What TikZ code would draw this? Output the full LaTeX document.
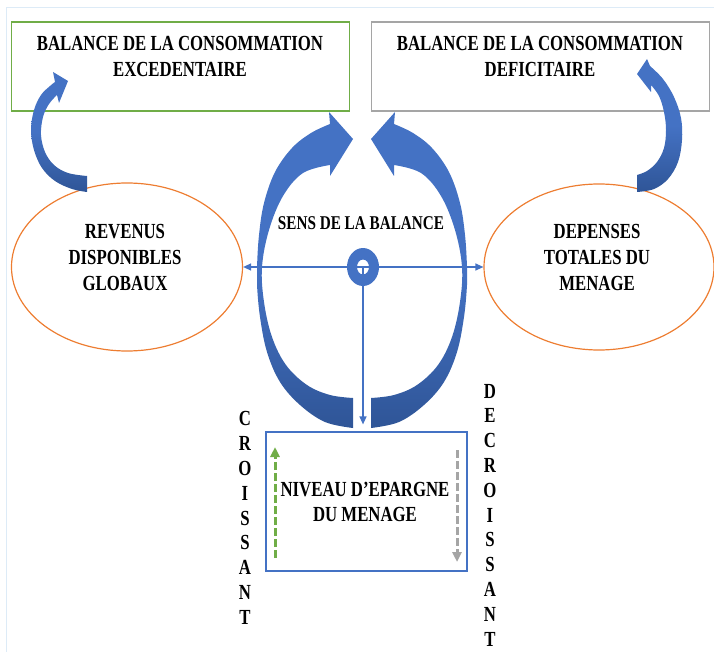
\documentclass[tikz,border=0pt]{standalone}
\usepackage{fontspec}
\setmainfont{Liberation Serif}[FakeStretch=0.78]
\usetikzlibrary{arrows.meta,shapes.geometric}
\definecolor{arcblue}{HTML}{4472C4}
\definecolor{arcdark}{HTML}{2F5597}
\definecolor{boxgreen}{HTML}{70AD47}
\definecolor{boxgray}{HTML}{A5A5A5}
\definecolor{ovalorange}{HTML}{ED7D31}
\definecolor{framecol}{HTML}{DDEBF7}
\begin{document}
\begin{tikzpicture}[x=1pt, y=-1pt,
        >={Triangle[length=8pt, width=7pt]},
        bal/.style={draw, line width=1.2pt, minimum width=338pt, minimum height=89pt, inner sep=0},
        oval/.style={ellipse, draw=ovalorange, line width=1.2pt, minimum width=231pt, minimum height=168pt, inner sep=0},
        lab/.style={font=\fontsize{21.5}{26}\selectfont\bfseries, align=center, inner sep=0},
        link/.style={arcblue, line width=1.3pt},
        trend/.style={line width=3pt, dash pattern=on 8pt off 3pt, -{Triangle[length=10pt, width=9pt]}},
        flow/.style={top color=arcblue, bottom color=arcdark, middle color=arcblue}]
    \useasboundingbox (0, 0) rectangle (714, 652);
    \draw[framecol, line width=1pt] (6, 652) |- (714, 8);
    \draw (180.5, 66.5) node[bal, draw=boxgreen](exc){};
    \draw (540.5, 66.5) node[bal, draw=boxgray](def){};
    \draw (180, 56) node[lab](exct){BALANCE DE LA CONSOMMATION\\EXCEDENTAIRE};
    \draw (540, 56) node[lab](deft){BALANCE DE LA CONSOMMATION\\DEFICITAIRE};
    \draw (127, 267) node[oval](rev){};
    \draw (599, 267) node[oval, minimum width=230pt, minimum height=166pt](dep){};
    \draw (125, 257) node[lab](revt){REVENUS\\DISPONIBLES\\GLOBAUX};
    \draw (597, 257) node[lab](dept){DEPENSES\\TOTALES DU\\MENAGE};
    \draw (366.5, 501.5) node[draw=arcblue, line width=1.2pt, minimum width=201pt, minimum height=139pt](epa){};
    \draw (365, 502) node[lab, font=\fontsize{21.5}{24.5}\selectfont\bfseries](epat){NIVEAU D’EPARGNE\\DU MENAGE};
    \draw (361, 223) node[lab, font=\fontsize{19.5}{24}\selectfont\bfseries](sens){SENS DE LA BALANCE};
    \draw (245, 518) node[lab, font=\fontsize{21.5}{24.8}\selectfont\bfseries](crois){C\\R\\O\\I\\S\\S\\A\\N\\T};
    \draw (490, 515) node[lab, font=\fontsize{21.5}{24.8}\selectfont\bfseries](decrois){D\\E\\C\\R\\O\\I\\S\\S\\A\\N\\T};
    \draw (363, 267) coordinate(ring);

    \foreach \s in {1, -1}
        \shade[flow, shift={(362, 0)}, xscale=\s]
            plot[smooth, tension=0.6] coordinates {(-9, 428) (-37, 422) (-62, 405) (-82, 382) (-95, 352) (-102, 317) (-105, 285) (-105, 267) (-103, 235) (-98, 203) (-87, 172) (-70, 148) (-51, 133) (-32, 124)}
            -- (-33, 112) -- (-9, 139) -- (-32, 176)
            -- plot[smooth, tension=0.6] coordinates {(-32, 165) (-59, 173) (-79, 196) (-93, 230) (-100, 267) (-98, 302) (-90, 337) (-76, 365) (-55, 385) (-32, 395) (-9, 398)}
            -- cycle;
    \shade[flow]
        plot[smooth, tension=0.6] coordinates {(87, 192) (72, 189) (55, 181) (42, 168) (34, 150) (31, 130) (34, 110) (41, 95) (50, 86) (55, 82)}
        -- (53, 72) -- (68, 81) -- (59, 103)
        -- plot[smooth, tension=0.6] coordinates {(57, 95) (49, 104) (43, 117) (41, 135) (45, 152) (54, 165) (68, 173) (87, 176)}
        -- cycle;
    \shade[flow]
        plot[smooth, tension=0.6] coordinates {(637, 192) (654, 189) (668, 179) (678, 162) (682, 140) (681, 118) (674, 97) (663, 79) (650, 66)}
        -- (647, 59) -- (637, 74) -- (651, 92)
        -- plot[smooth, tension=0.6] coordinates {(651, 85) (659, 96) (664, 112) (666, 130) (664, 148) (657, 162) (647, 171) (637, 175)}
        -- cycle;

    \draw[link, <->] (rev.east) -- (dep.west);
    \draw[link, ->, shorten >=7pt] (ring) -- (ring |- epa.north);
    \fill[arcblue, even odd rule] (ring) ellipse [x radius=16, y radius=19] (ring) ellipse [x radius=6, y radius=7.5];

    \coordinate (gfrom) at (275, 558);
    \coordinate (gto) at (275, 447);
    \coordinate (dfrom) at (457, 450);
    \coordinate (dto) at (457, 562);
    \draw[trend, boxgreen] (gfrom) -- (gto);
    \draw[trend, boxgray] (dfrom) -- (dto);
\end{tikzpicture}
\end{document}
